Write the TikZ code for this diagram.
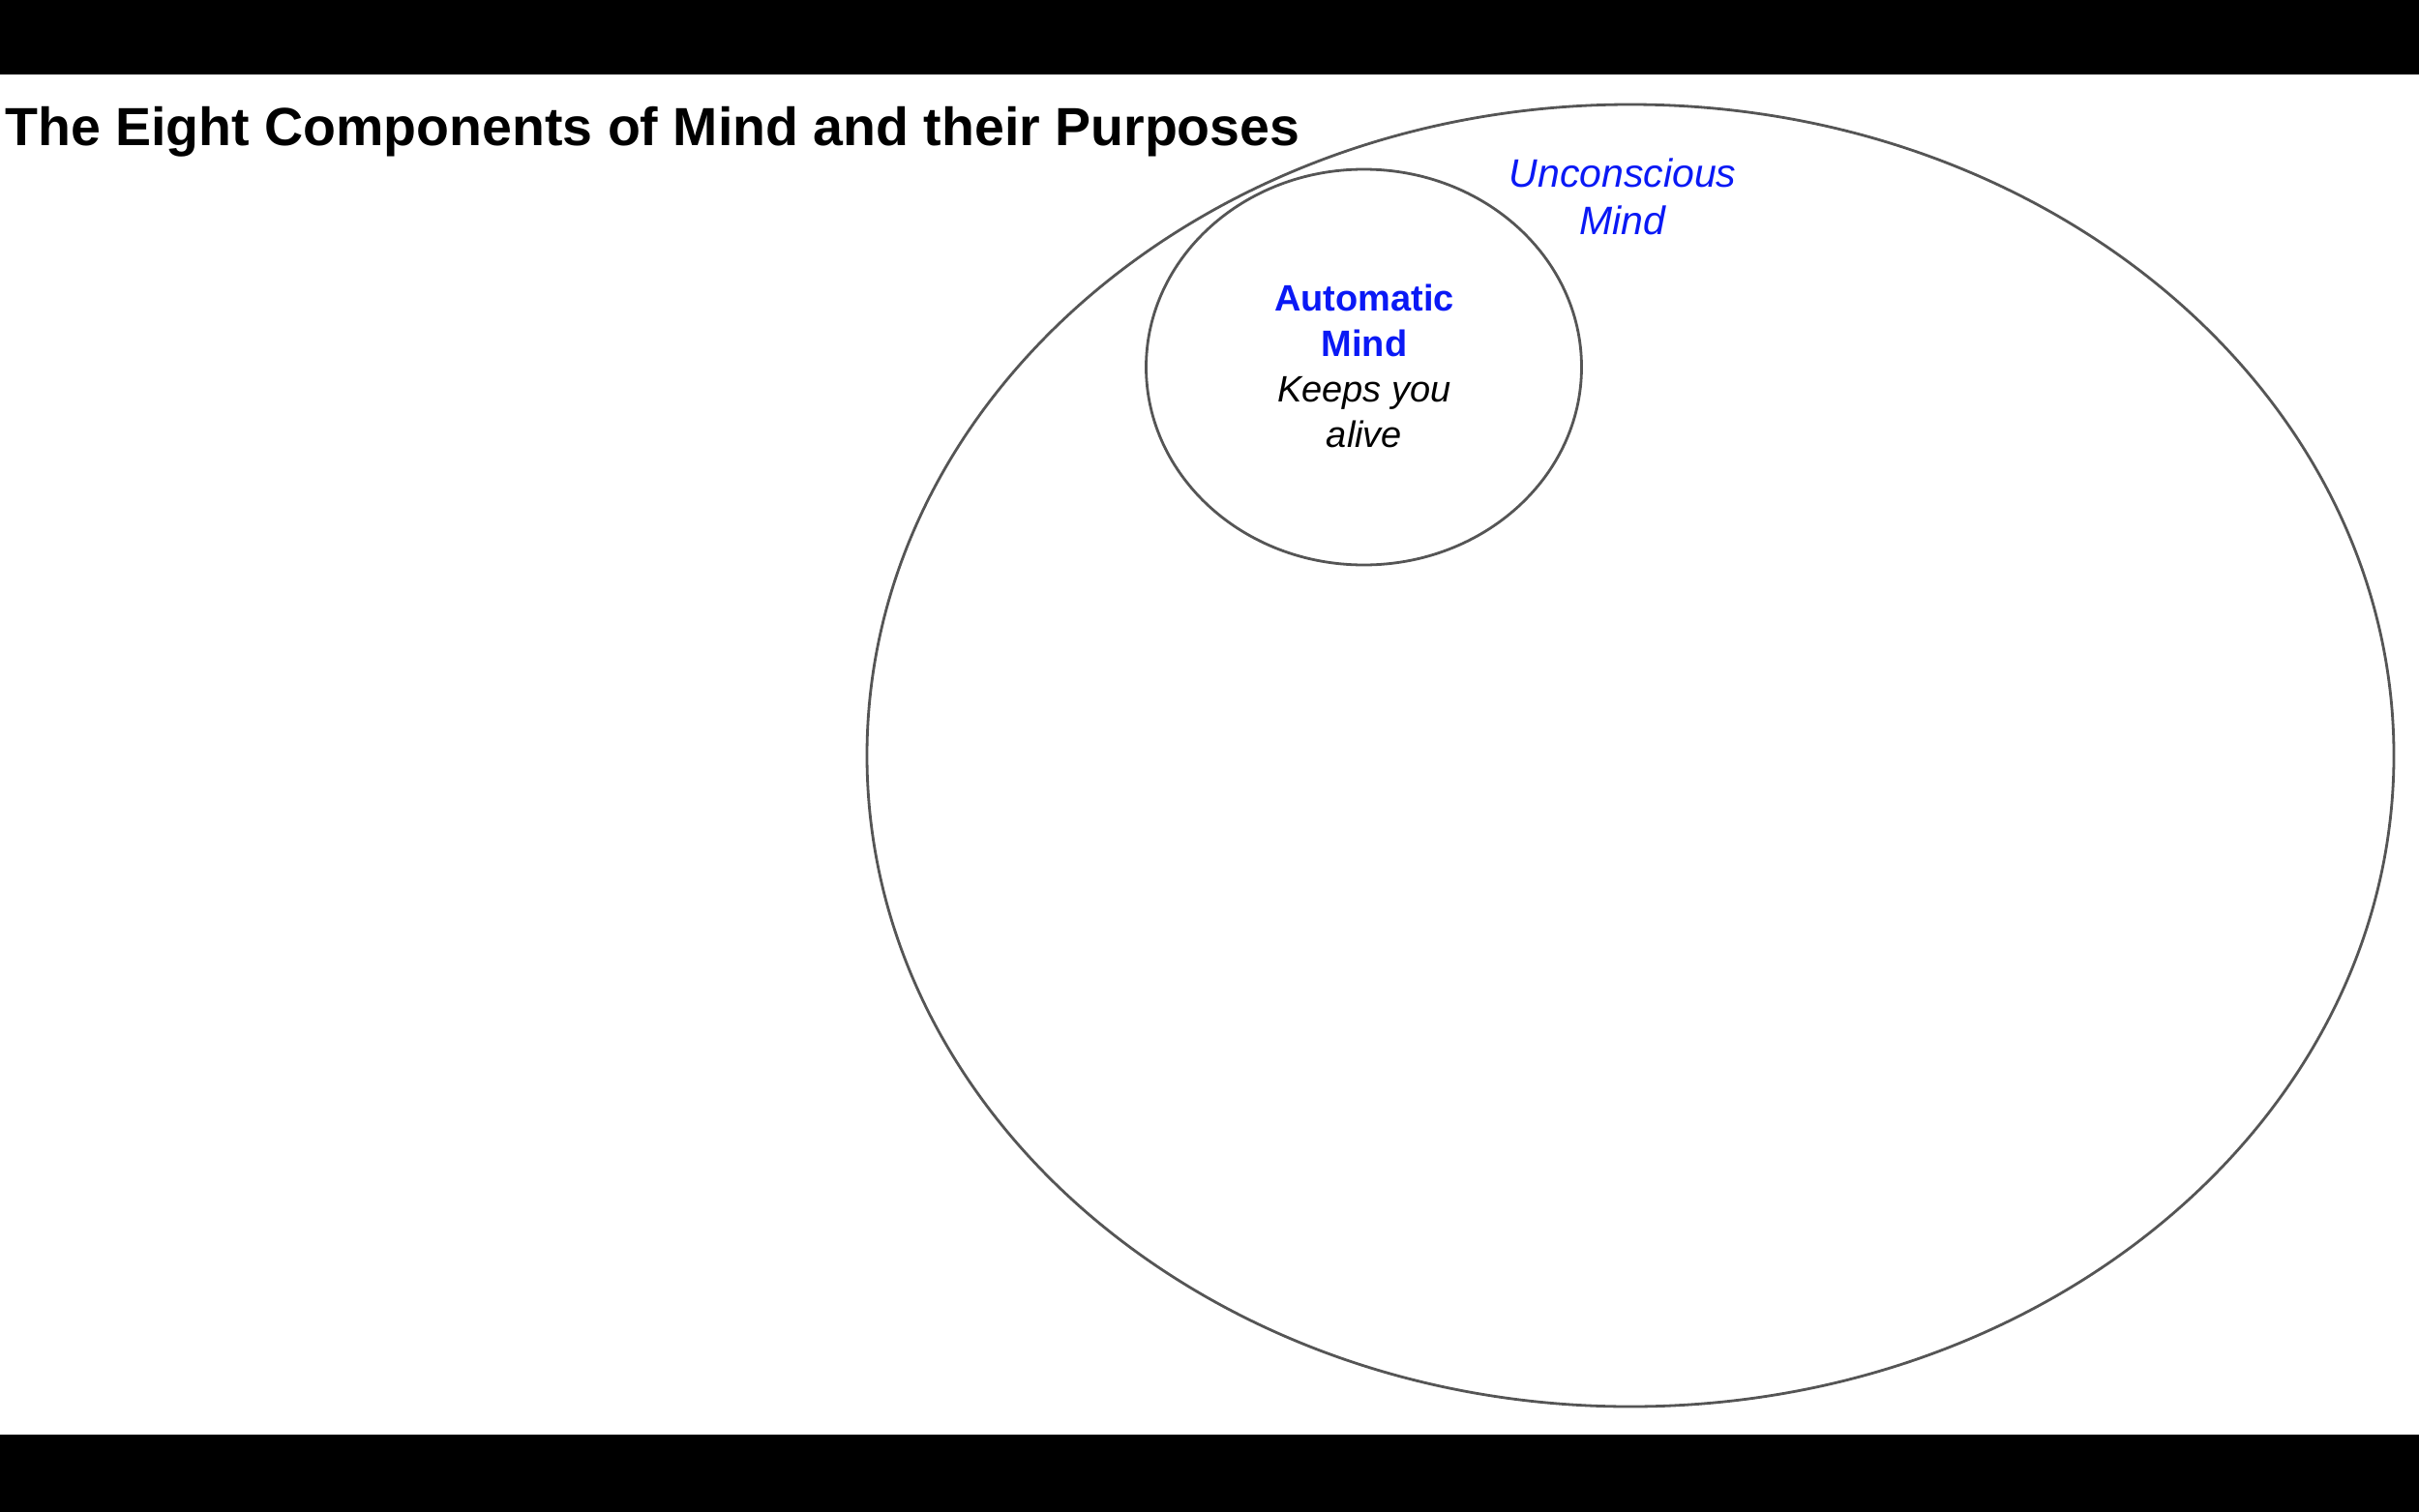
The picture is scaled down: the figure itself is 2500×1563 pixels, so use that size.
\documentclass[tikz,border=0pt]{standalone}
\usepackage{fontspec}
\setmainfont{Liberation Sans}
\usetikzlibrary{shapes.geometric}
\definecolor{mindblue}{RGB}{10,25,245}
\definecolor{rimgray}{RGB}{85,85,85}
\tikzset{
  rim/.style={draw=rimgray, line width=2.8pt, ellipse, inner sep=0pt, outer sep=0pt},
  bar/.style={fill=black, draw=none},
  label/.style={inner sep=0pt, align=center}
}
\begin{document}
\begin{tikzpicture}[x=1pt,y=-1pt]
  \fill[white] (0,0) rectangle (2500,1563);
  \useasboundingbox (0,0) rectangle (2500,1563);
  \fill[bar] (0,0) rectangle (2500,77);
  \fill[bar] (0,1483) rectangle (2500,1563);

  \node[label, anchor=west, font=\fontsize{55.5}{66}\selectfont\bfseries] (title) at (5,136)
    {The Eight Components of Mind and their Purposes};

  \node[rim, minimum width=1578pt, minimum height=1346pt] (unconscious) at (1685,781) {};
  \node[rim, minimum width=450pt, minimum height=409pt] (automatic) at (1409.5,379.5) {};

  \node[label, text=mindblue, font=\fontsize{41}{49}\selectfont\itshape] (unctext) at (1677,203)
    {Unconscious\\Mind};
  \node[label, font=\fontsize{38}{47}\selectfont] (autotext) at (1410,378.5)
    {{\color{mindblue}\bfseries Automatic}\\{\color{mindblue}\bfseries Mind}\\{\itshape Keeps you}\\{\itshape alive}};
\end{tikzpicture}
\end{document}
